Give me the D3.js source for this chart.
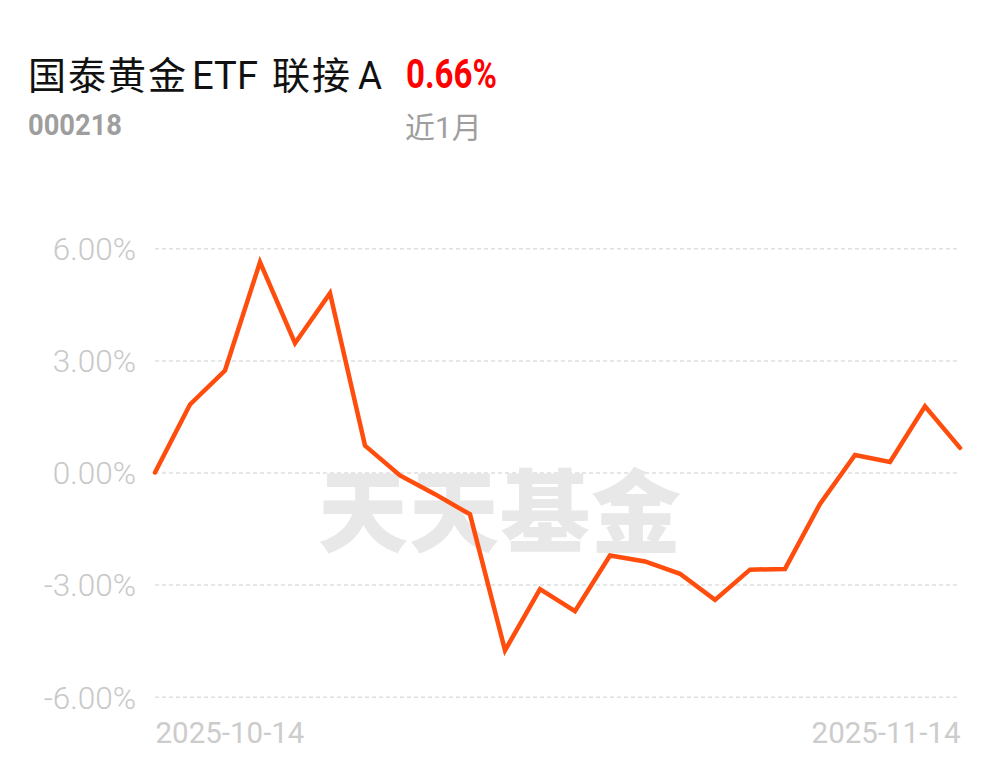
<!DOCTYPE html>
<html><head><meta charset="utf-8">
<script src="https://cdn.jsdelivr.net/npm/d3@7"></script>
<style>
html,body{margin:0;padding:0;background:#fff;}
svg{display:block;}
text{font-family:Roboto,"Noto Sans CJK SC",sans-serif;}
</style></head>
<body>
<svg id="chart" width="1001" height="766"></svg>
<script>
const fundNameParts = ["国泰黄金", "ETF", "联接", "A"];
const fundCode = "000218";
const periodReturn = "0.66%";
const periodLabel = "近1月";
const watermark = "天天基金";

const dates = ["2025-10-14","2025-10-15","2025-10-16","2025-10-17","2025-10-20","2025-10-21","2025-10-22","2025-10-23","2025-10-24","2025-10-27","2025-10-28","2025-10-29","2025-10-30","2025-10-31","2025-11-03","2025-11-04","2025-11-05","2025-11-06","2025-11-07","2025-11-10","2025-11-11","2025-11-12","2025-11-13","2025-11-14"];
const values = [0.00, 1.82, 2.73, 5.63, 3.46, 4.80, 0.72, -0.08, -0.58, -1.12, -4.76, -3.12, -3.71, -2.22, -2.38, -2.71, -3.41, -2.60, -2.58, -0.84, 0.47, 0.28, 1.77, 0.66];
const yTicks = [6, 3, 0, -3, -6];
const xTickLabels = ["2025-10-14", "2025-11-14"];

const svg = d3.select("#chart");
const x = d3.scalePoint().domain(dates).range([155, 960]);
const y = d3.scaleLinear().domain([-6, 6]).range([696.7, 248.3]);

// title
const partX = [28, 192, 272, 358];
const partLen = [158, 66, 78, 24];
const title = svg.append("text").attr("y", 89).attr("font-size", 38).attr("fill", "#111")
  .attr("font-family", "'Noto Sans CJK SC',sans-serif");
fundNameParts.forEach((p, i) => {
  title.append("tspan").attr("x", partX[i]).attr("textLength", partLen[i])
    .attr("lengthAdjust", i === 1 || i === 3 ? "spacingAndGlyphs" : "spacing").text(p);
});
svg.append("text").attr("x", 406).attr("y", 88).attr("font-size", 41).attr("font-weight", 700)
  .attr("fill", "#ff0000").attr("textLength", 91).attr("lengthAdjust", "spacingAndGlyphs").text(periodReturn);
svg.append("text").attr("x", 28).attr("y", 135).attr("font-size", 30).attr("font-weight", 700)
  .attr("fill", "#9e9e9e").attr("textLength", 94).attr("lengthAdjust", "spacingAndGlyphs").text(fundCode);
svg.append("text").attr("x", 405).attr("y", 138).attr("font-size", 30)
  .attr("fill", "#9e9e9e").attr("font-family", "'Noto Sans CJK SC',sans-serif").text(periodLabel);

// grid
const grid = svg.append("g").attr("transform", "translate(155,0)")
  .call(d3.axisRight(y).tickValues(yTicks).tickSize(805).tickFormat(""));
grid.select(".domain").remove();
grid.selectAll(".tick line").attr("stroke", "#dedede").attr("stroke-width", 1.5).attr("stroke-dasharray", "4,3");

// y axis labels
const yAxis = svg.append("g").attr("transform", "translate(136,0)")
  .call(d3.axisLeft(y).tickValues(yTicks).tickSize(0).tickPadding(0)
    .tickFormat(d => (d < 0 ? "-" : "") + d3.format(".2f")(Math.abs(d)) + "%"));
yAxis.select(".domain").remove();
yAxis.selectAll(".tick text").attr("font-size", 31.5).attr("font-weight", 300).attr("fill", "#c8c8c8")
  .attr("font-family", "Roboto,sans-serif").attr("dy", "0.36em");

// watermark
svg.append("text").attr("x", 500).attr("y", 545).attr("text-anchor", "middle")
  .attr("font-size", 90).attr("font-weight", 900).attr("fill", "#e8e8e8")
  .attr("font-family", "'Noto Sans CJK SC',sans-serif").attr("letter-spacing", 1).text(watermark);

// x labels
const xAxis = svg.append("g").attr("transform", "translate(0,715)")
  .call(d3.axisBottom(x).tickValues(xTickLabels).tickSize(0).tickPadding(0));
xAxis.select(".domain").remove();
xAxis.selectAll(".tick text").attr("font-size", 29.5).attr("fill", "#cccccc").attr("font-family", "Roboto,sans-serif")
  .attr("text-anchor", (d, i) => i === 0 ? "start" : "end").attr("dy", "0.95em");

// line
const line = d3.line().x((d, i) => x(dates[i])).y(d => y(d));
svg.append("path").datum(values).attr("d", line).attr("fill", "none")
  .attr("stroke", "#ff4d0d").attr("stroke-width", 4.5).attr("stroke-linejoin", "miter").attr("stroke-linecap", "round");
</script>
</body></html>
